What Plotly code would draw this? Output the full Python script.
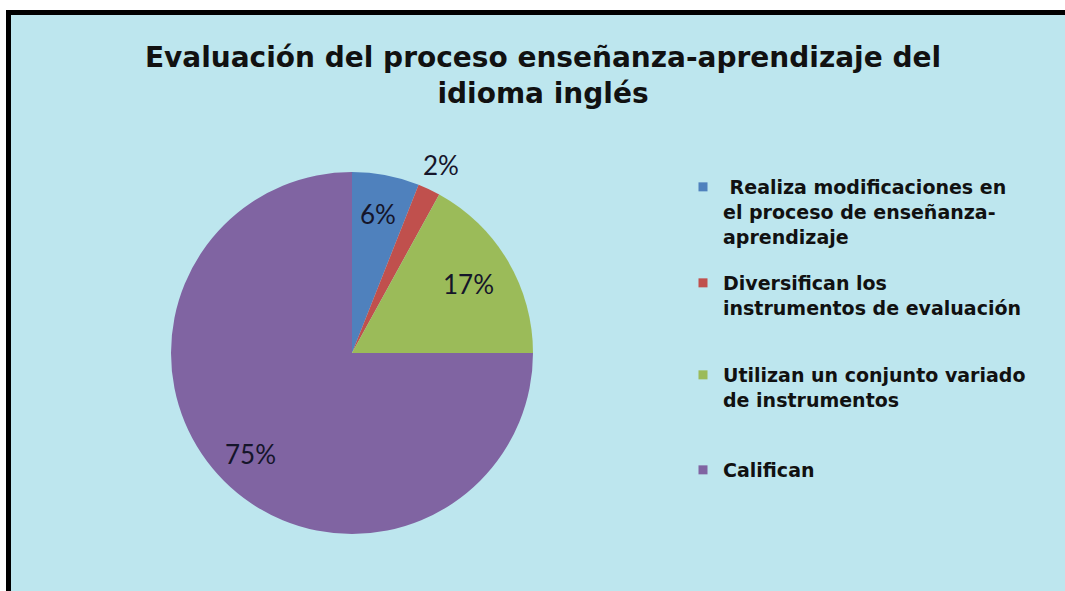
import math
import plotly.graph_objects as go

# ---- data ----
categories = [
    " Realiza modificaciones en<br>el proceso de enseñanza-<br>aprendizaje",
    "Diversifican los<br>instrumentos de evaluación",
    "Utilizan un conjunto variado<br>de instrumentos",
    "Califican",
]
values = [6, 2, 17, 75]
value_labels = ["6%", "2%", "17%", "75%"]
colors = ["#4F81BD", "#C0504D", "#9BBB59", "#8064A2"]
label_radius = [0.78, 1.15, 0.75, 0.79]
title_text = "<b>Evaluación del proceso enseñanza-aprendizaje del<br>idioma inglés</b>"

W, H = 1065, 591
BG = "rgb(189,230,238)"

# pie geometry (pixels)
cx, cy_top, R = 352, 353, 181
cy = H - cy_top

fig = go.Figure()
fig.add_trace(go.Pie(
    values=values,
    labels=categories,
    marker=dict(colors=colors, line=dict(width=0)),
    sort=False,
    direction="clockwise",
    rotation=0,
    textinfo="none",
    hoverinfo="label+percent",
    showlegend=False,
    domain=dict(x=[(cx - R) / W, (cx + R) / W], y=[(cy - R) / H, (cy + R) / H]),
))

# percentage labels placed at slice mid-angles
total = sum(values)
cum = 0
annotations = []
for v, t, rr in zip(values, value_labels, label_radius):
    mid = (cum + v / 2) / total * 2 * math.pi
    cum += v
    px = cx + rr * R * math.sin(mid)
    py = cy + rr * R * math.cos(mid)
    annotations.append(dict(
        x=px / W, y=py / H, xref="paper", yref="paper",
        text=t, showarrow=False, xanchor="center", yanchor="middle",
        font=dict(family="Lato, Open Sans, sans-serif", size=26, color="#15152a"),
    ))

# legend entries (one legend per category to mimic spacing)
legend_tops = [168, 264, 356, 451]
legend_names = ["legend", "legend2", "legend3", "legend4"]
layout_legends = {}
for name, col, lg, top in zip(categories, colors, legend_names, legend_tops):
    fig.add_trace(go.Scatter(
        x=[None], y=[None], mode="markers", name="<b>" + name + "</b>",
        marker=dict(symbol="square", size=9, color=col),
        legend=lg, showlegend=True, hoverinfo="skip",
    ))
    layout_legends[lg] = dict(
        x=683 / W, xanchor="left", y=1 - top / H, yanchor="top",
        bgcolor="rgba(0,0,0,0)", borderwidth=0, valign="top",
        font=dict(family="DejaVu Sans, Liberation Sans, Arial, sans-serif", size=19, color="#111111"),
        itemclick=False, itemdoubleclick=False,
    )

shapes = [
    # top black frame line
    dict(type="rect", xref="paper", yref="paper", x0=6 / W, x1=1.01, y0=1 - 15 / H, y1=1 - 10 / H,
         fillcolor="black", line=dict(width=0), layer="below"),
    # left black frame line
    dict(type="rect", xref="paper", yref="paper", x0=6 / W, x1=11 / W, y0=-0.01, y1=1 - 10 / H,
         fillcolor="black", line=dict(width=0), layer="below"),
    # background panel
    dict(type="rect", xref="paper", yref="paper", x0=11 / W, x1=1.01, y0=-0.01, y1=1 - 15 / H,
         fillcolor=BG, line=dict(width=0), layer="below"),
]

fig.update_layout(
    width=W, height=H,
    margin=dict(l=0, r=0, t=0, b=0),
    paper_bgcolor="white",
    plot_bgcolor="rgba(0,0,0,0)",
    title=dict(text=title_text, x=543 / W, xanchor="center", y=1 - 67 / H, yanchor="top",
               yref="container", xref="container",
               font=dict(family="DejaVu Sans, Liberation Sans, Arial, sans-serif", size=28, color="#111111")),
    xaxis=dict(visible=False), yaxis=dict(visible=False),
    annotations=annotations,
    shapes=shapes,
    **layout_legends,
)

fig.write_html("out.html", config={"displayModeBar": False},
               post_script="document.body.style.margin='0';")
